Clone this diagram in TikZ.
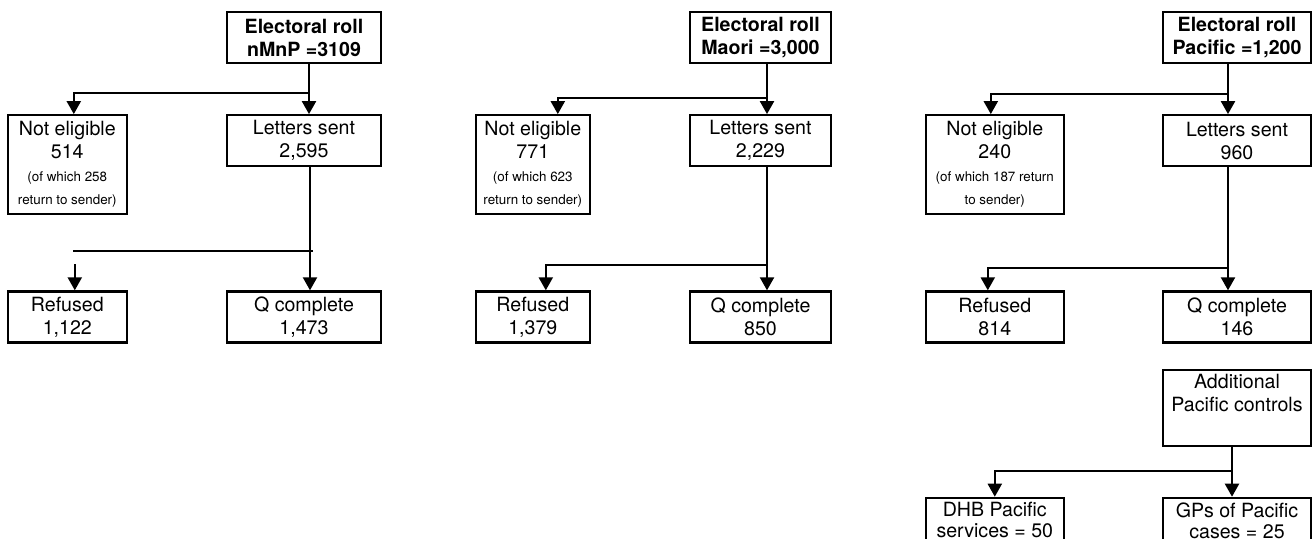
\documentclass[tikz,border=0pt]{standalone}
\usepackage{fontspec}
\setmainfont{TeX Gyre Heros}
\usetikzlibrary{arrows.meta,positioning}
\newcommand{\smalltxt}{\fontsize{6.7pt}{9pt}\selectfont}

\begin{document}
\begin{tikzpicture}[
  box/.style={draw, line width=1.1pt, inner sep=0pt, align=center, minimum height=25.5pt,
              font=\fontsize{9.8pt}{11.5pt}\selectfont},
  head/.style={box, font=\fontsize{9.8pt}{11.5pt}\selectfont\bfseries},
  arr/.style={-{Triangle[length=6.5pt,width=7pt]}, line width=1.1pt},
  line/.style={line width=1.1pt},
]
  \useasboundingbox (0,0) rectangle (656pt,-269pt);

  % nMnP
  \node[head, minimum width=77pt] (roll1) at (152pt,-18.75pt) {Electoral roll\\nMnP =3109};
  \node[box, minimum width=77pt, below=25pt of roll1] (sent1) {Letters sent\\2,595};
  \node[box, minimum width=59.5pt, minimum height=49.5pt, left=49pt of sent1.north west, anchor=north east] (noelig1)
    {Not eligible\\514\\\smalltxt (of which 258\\\smalltxt return to sender)};
  \node[box, minimum width=77pt, below=61.5pt of sent1] (qc1) {Q complete\\1,473};
  \node[box, minimum width=59.5pt, below=37.5pt of noelig1] (refused1) {Refused\\1,122};

  % Maori
  \node[head, minimum width=70.5pt] (roll2) at (380.25pt,-18.75pt) {Electoral roll\\Maori =3,000};
  \node[box, minimum width=70.5pt, below=25pt of roll2] (sent2) {Letters sent\\2,229};
  \node[box, minimum width=57pt, minimum height=49.5pt, left=49pt of sent2.north west, anchor=north east] (noelig2)
    {Not eligible\\771\\\smalltxt (of which 623\\\smalltxt return to sender)};
  \node[box, minimum width=70.5pt, below=61.5pt of sent2] (qc2) {Q complete\\850};
  \node[box, minimum width=57pt, below=37.5pt of noelig2] (refused2) {Refused\\1,379};

  % Pacific
  \node[head, minimum width=74pt] (roll3) at (618.5pt,-18.75pt) {Electoral roll\\Pacific =1,200};
  \node[box, minimum width=74pt, below=25pt of roll3] (sent3) {Letters sent\\960};
  \node[box, minimum width=69pt, minimum height=49.5pt, left=48.5pt of sent3.north west, anchor=north east] (noelig3)
    {Not eligible\\240\\\smalltxt (of which 187 return\\\smalltxt to sender)};
  \node[box, minimum width=74pt, below=61.5pt of sent3] (qc3) {Q complete\\146};
  \node[box, minimum width=69pt, below=37.5pt of noelig3] (refused3) {Refused\\814};
  \node[box, minimum width=74pt, minimum height=38pt, below=12.5pt of qc3] (addl) {Additional\\Pacific controls\\\strut};
  \node[box, minimum width=74pt, below=25pt of addl] (gps) {GPs of Pacific\\[-1pt]cases = 25\rule[-3pt]{0pt}{0pt}};
  \node[box, minimum width=69pt, left=48.5pt of gps.north west, anchor=north east] (dhb) {DHB Pacific\\[-1pt]services = 50\rule[-3pt]{0pt}{0pt}};

  % connectors nMnP
  \draw[arr] ([xshift=2.5pt]roll1.south) -- ([xshift=2.5pt]sent1.north);
  \draw[arr] ([xshift=2.5pt,yshift=-14.5pt]roll1.south) -| ([xshift=3.25pt]noelig1.north);
  \draw[arr] ([xshift=3pt]sent1.south) -- ([xshift=3pt]qc1.north);
  \coordinate (cut1) at ([yshift=-42pt]sent1.south);
  \draw[line] ([xshift=4.5pt]cut1) -- ([xshift=2.75pt]cut1 -| refused1.north);
  \draw[arr] ([xshift=3.75pt,yshift=13pt]refused1.north) -- ([xshift=3.75pt]refused1.north);

  % connectors Maori
  \draw[arr] ([xshift=3.25pt]roll2.south) -- ([xshift=3.25pt]sent2.north);
  \draw[arr] ([xshift=3.25pt,yshift=-17pt]roll2.south) -| ([xshift=12.5pt]noelig2.north);
  \draw[arr] ([xshift=3.25pt]sent2.south) -- ([xshift=3.25pt]qc2.north);
  \draw[arr] ([xshift=3.25pt,yshift=-49pt]sent2.south) -| ([xshift=6.5pt]refused2.north);

  % connectors Pacific
  \draw[arr] ([xshift=-4.5pt]roll3.south) -- ([xshift=-4.5pt]sent3.north);
  \draw[arr] ([xshift=-4.5pt,yshift=-15pt]roll3.south) -| ([xshift=-2pt]noelig3.north);
  \draw[arr] ([xshift=-4.5pt]sent3.south) -- ([xshift=-4.5pt]qc3.north);
  \draw[arr] ([xshift=-4.5pt,yshift=-50.5pt]sent3.south) -| ([xshift=-3.5pt]refused3.north);
  \draw[arr] ([xshift=-2.5pt]addl.south) -- ([xshift=-2.5pt]gps.north);
  \draw[arr] ([xshift=-2.5pt,yshift=-12pt]addl.south) -| (dhb.north);
\end{tikzpicture}
\end{document}
